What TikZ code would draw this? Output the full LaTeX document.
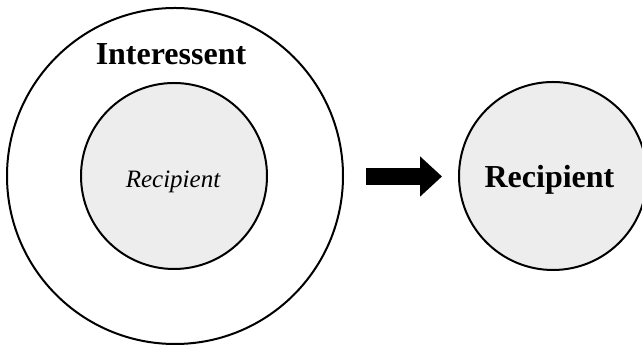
\documentclass[tikz,border=0pt]{standalone}
\usepackage{fontspec}
\setmainfont{Liberation Serif}
\usetikzlibrary{arrows.meta}
\definecolor{recipgray}{HTML}{EDEDED}
\tikzset{
  bigbold/.style={font=\fontsize{16}{19}\selectfont\bfseries, anchor=base},
  smallital/.style={font=\fontsize{12.5}{15}\selectfont\itshape, anchor=base}
}
\begin{document}
\begin{tikzpicture}[x=0.5pt,y=0.5pt,line width=1pt]
\def\outercircle{(175,170) circle (84pt)}
\def\innercircle{(174,170) circle (46.5pt)}
\def\rightcircle{(553,170) circle (47pt)}
\useasboundingbox (0,0) rectangle (642,346);
\draw \outercircle;
\filldraw[fill=recipgray] \innercircle;
\filldraw[fill=recipgray] \rightcircle;
\node[bigbold] (interessent) at (171,281) {Interessent};
\node[smallital] (innerrecip) at (173,158) {Recipient};
\node[bigbold] (rightrecip) at (549.5,158) {Recipient};
% block arrow
\coordinate (arrowtail) at (366,169.5);
\coordinate (arrowtip) at (442,169.5);
\draw[line width=8.5pt, -{Triangle[length=11pt,width=19.5pt]}] (arrowtail) -- (arrowtip);
\end{tikzpicture}
\end{document}
